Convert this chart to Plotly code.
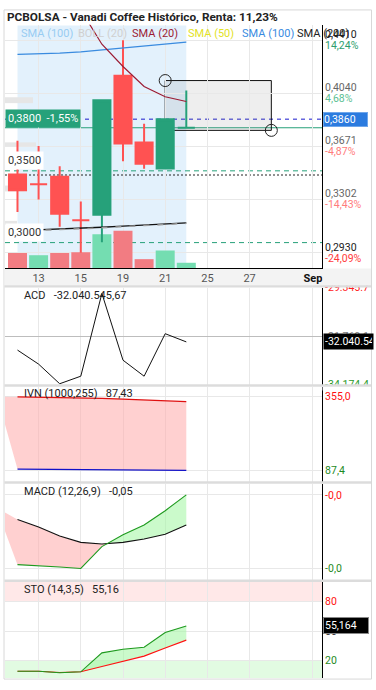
import plotly.graph_objects as go

W, H = 376, 690
FONT = "Roboto"

# ---------------- data ----------------
sessions = [0, 1, 2, 3, 4, 5, 6, 7, 8]              # trading sessions (12 Aug .. 22 Aug)
sessions_ext = [-1, 0, 1, 2, 3, 4, 5, 6, 7, 8]      # incl. previous session (indicator fills)
tick_pos = [1, 3, 5, 7, 9, 11, 14]
tick_txt = ["13", "15", "19", "21", "25", "27", '<span style="color:#111"><b>Sep</b></span>']

open_p  = [0.3475, 0.3407, 0.3459, 0.3156, 0.3194, 0.4163, 0.3698, 0.3516, 0.3800]
high_p  = [0.3710, 0.3673, 0.3532, 0.3286, 0.3992, 0.4410, 0.3828, 0.3860, 0.4060]
low_p   = [0.3213, 0.3300, 0.3110, 0.2930, 0.3003, 0.3566, 0.3514, 0.3510, 0.3800]
close_p = [0.3365, 0.3407, 0.3201, 0.3156, 0.3992, 0.3691, 0.3550, 0.3860, 0.3800]
candle_up = [0, 0, 0, 0, 1, 0, 0, 1, 1]
volume    = [153000, 130000, 153000, 160000, 343000, 380000, 90000, 177000, 53000]
volume_up = [0, 1, 0, 0, 1, 0, 0, 1, 1]

sma20  = [0.5300, 0.5080, 0.4860, 0.4621, 0.4382, 0.4227, 0.4088, 0.4016, 0.3983]
sma100 = [0.4311, 0.4315, 0.4320, 0.4329, 0.4343, 0.4356, 0.4368, 0.4382, 0.4397]
sma200 = [0.3083, 0.3088, 0.3094, 0.3100, 0.3107, 0.3115, 0.3122, 0.3130, 0.3138]
boll_lower = [0.3079, 0.3084, 0.3090, 0.3096, 0.3103, 0.3111, 0.3118, 0.3126, 0.3134]

price_levels = [0.4410, 0.4040, 0.3671, 0.3302, 0.2930]
price_level_txt = ["0,4410", "0,4040", "0,3671", "0,3302", "0,2930"]
price_level_pct = ["14,24%", "4,68%", "-4,87%", "-14,43%", "-24,09%"]
last_price, last_price_txt = 0.3860, "0,3860"
last_close, last_close_txt = 0.3800, "0,3800\u00a0\u00a0-1,55%"
support_levels = [0.3500, 0.3000]
support_txt = ["0,3500", "0,3000"]
dotted_level = 0.3471
draw_rect = [7, 0.4129, 12.03, 0.3782]   # drawing tool box: x0, y0, x1, y1

acd = [-32454178, -33163129, -34154669, -33772926, -29593600,
       -32964821, -33772926, -31626242, -32040545.67]
acd_ticks = [-29300000, -31760100, -34200000]
acd_tick_txt = ["-29.345.7", "-31.760.1", "-34.174.4"]

ivn_upper = [355.3, 355.0, 354.3, 353.2, 351.8, 349.6, 346.8, 343.9, 340.7, 337.2]
ivn_lower = [366.0, 92.0, 91.7, 91.3, 91.0, 90.6, 89.9, 89.2, 88.1, 87.43]

macd_line   = [-0.0575, -0.0898, -0.0903, -0.0911, -0.0920, -0.0795, -0.0728, -0.0672, -0.0590, -0.0500]
macd_signal = [-0.0574, -0.0640, -0.0683, -0.0734, -0.0771, -0.0780, -0.0771, -0.0752, -0.0724, -0.0672]

sto_k = [9.0, 9.0, 7.4, 8.4, 27.7, 31.4, 33.4, 48.4, 55.16]
sto_d = [9.0, 9.0, 7.7, 8.4, 13.8, 19.4, 24.4, 32.7, 40.7]

# ---------------- styling ----------------
GREEN = "#26A17A"
RED = "#FF5252"
VOL_UP = "#74DDB1"
VOL_DN = "#F27C82"
GRID = "#E8E8E8"


def pxx(p):
    return p / W


def pxy(p):
    return 1 - p / H


XDOM = [pxx(5), pxx(322)]
XRANGE = [-0.592, 14.431]

fig = go.Figure()

# volume (under the candles)
fig.add_trace(go.Bar(x=sessions, y=volume, width=0.9,
                     marker=dict(color=[VOL_UP if u else VOL_DN for u in volume_up], line=dict(width=0)),
                     xaxis="x", yaxis="y", hoverinfo="skip"))

# candles
for flag, col in ((0, RED), (1, GREEN)):
    idx = [i for i in range(len(sessions)) if candle_up[i] == flag]
    style = dict(line=dict(color=col, width=2), fillcolor=col)
    fig.add_trace(go.Candlestick(
        x=[sessions[i] for i in idx], open=[open_p[i] for i in idx], high=[high_p[i] for i in idx],
        low=[low_p[i] for i in idx], close=[close_p[i] for i in idx],
        increasing=style, decreasing=style, whiskerwidth=0,
        xaxis="x", yaxis="y2", hoverinfo="skip"))

# moving averages
fig.add_trace(go.Scatter(x=sessions, y=sma200, mode="lines", line=dict(color="#111", width=1.3), xaxis="x", yaxis="y2"))
fig.add_trace(go.Scatter(x=sessions, y=boll_lower, mode="lines", line=dict(color="#9A9A9A", width=1.5, dash="6px,8px"), xaxis="x", yaxis="y2"))
fig.add_trace(go.Scatter(x=sessions, y=sma100, mode="lines", line=dict(color="#3A8BDF", width=1.2), xaxis="x", yaxis="y2"))
fig.add_trace(go.Scatter(x=sessions, y=sma20, mode="lines", line=dict(color="#9C1C34", width=1.2), xaxis="x", yaxis="y2"))

# ACD
fig.add_trace(go.Scatter(x=sessions, y=acd, mode="lines", line=dict(color="#111", width=1), xaxis="x2", yaxis="y3"))

# IVN
fig.add_trace(go.Scatter(x=sessions_ext, y=ivn_lower, mode="lines", line=dict(width=0), xaxis="x3", yaxis="y4"))
fig.add_trace(go.Scatter(x=sessions_ext, y=ivn_upper, mode="lines", line=dict(width=0), fill="tonexty",
                         fillcolor="rgba(255,170,170,0.55)", xaxis="x3", yaxis="y4"))
fig.add_trace(go.Scatter(x=sessions, y=ivn_upper[1:], mode="lines", line=dict(color="#E01010", width=1.2), xaxis="x3", yaxis="y4"))
fig.add_trace(go.Scatter(x=sessions, y=ivn_lower[1:], mode="lines", line=dict(color="#1010C8", width=1.2), xaxis="x3", yaxis="y4"))


def band_fill(xs, a, b, col_pos, col_neg, xa, ya):
    segs = []
    cx, ca, cb = [xs[0]], [a[0]], [b[0]]
    sign = a[0] >= b[0]
    for i in range(1, len(xs)):
        s = a[i] >= b[i]
        if s != sign:
            d0 = a[i - 1] - b[i - 1]
            d1 = a[i] - b[i]
            t = d0 / (d0 - d1)
            xc = xs[i - 1] + t * (xs[i] - xs[i - 1])
            yc = a[i - 1] + t * (a[i] - a[i - 1])
            cx.append(xc); ca.append(yc); cb.append(yc)
            segs.append((cx, ca, cb, sign))
            cx, ca, cb = [xc], [yc], [yc]
            sign = s
        cx.append(xs[i]); ca.append(a[i]); cb.append(b[i])
    segs.append((cx, ca, cb, sign))
    for sx, sa, sb, sg in segs:
        fig.add_trace(go.Scatter(x=sx + sx[::-1], y=sa + sb[::-1], mode="lines", line=dict(width=0),
                                 fill="toself", fillcolor=col_pos if sg else col_neg,
                                 xaxis=xa, yaxis=ya, hoverinfo="skip"))


# MACD
band_fill(sessions_ext, macd_line, macd_signal, "rgba(160,245,160,0.55)", "rgba(255,170,170,0.55)", "x4", "y5")
fig.add_trace(go.Scatter(x=sessions, y=macd_signal[1:], mode="lines", line=dict(color="#111", width=1.1), xaxis="x4", yaxis="y5"))
fig.add_trace(go.Scatter(x=sessions, y=macd_line[1:], mode="lines", line=dict(color="#1E9A1E", width=1.1), xaxis="x4", yaxis="y5"))

# STO
band_fill(sessions, sto_k, sto_d, "rgba(160,245,160,0.55)", "rgba(255,170,170,0.55)", "x5", "y6")
fig.add_trace(go.Scatter(x=sessions, y=sto_d, mode="lines", line=dict(color="#FF1010", width=1.1), xaxis="x5", yaxis="y6"))
fig.add_trace(go.Scatter(x=sessions, y=sto_k, mode="lines", line=dict(color="#1E9A1E", width=1.1), xaxis="x5", yaxis="y6"))

# ---------------- axes ----------------
xcommon = dict(range=XRANGE, domain=XDOM, tickmode="array", tickvals=tick_pos, showgrid=True,
               gridcolor=GRID, zeroline=False, fixedrange=True)
ycommon = dict(side="right", showline=True, linecolor="#000", linewidth=1, zeroline=False,
               gridcolor=GRID, tickmode="array", ticks="", tickfont=dict(family=FONT, size=10.5, color="#666"))


def span(t, c):
    return '<span style="color:%s">%s</span>' % (c, t)


layout = dict(
    width=W, height=H, margin=dict(l=0, r=0, t=0, b=0),
    paper_bgcolor="white", plot_bgcolor="rgba(0,0,0,0)", showlegend=False,
    font=dict(family=FONT),
    boxgap=0.19, boxgroupgap=0,
    xaxis=dict(**xcommon, anchor="y", ticktext=tick_txt, showline=True, linecolor="#000",
               ticks="", tickfont=dict(family=FONT, size=11, color="#555"), rangeslider=dict(visible=False)),
    yaxis=dict(domain=[pxy(267), pxy(19)], range=[0, 2480000], visible=False, fixedrange=True),
    yaxis2=dict(**ycommon, overlaying="y", anchor="x", range=[0.28233, 0.45185],
                tickvals=price_levels, showticklabels=False),
    xaxis2=dict(**xcommon, anchor="y3", matches="x", showticklabels=False),
    yaxis3=dict(**{k: v for k, v in ycommon.items() if k != "gridcolor"}, gridcolor="#BDBDBD", anchor="x2",
                domain=[pxy(386), pxy(287)], range=[-34204241, -29296143], tickvals=acd_ticks,
                ticktext=[span(acd_tick_txt[0], "#FF2020"), span(acd_tick_txt[1], "#777"), span(acd_tick_txt[2], "#2A9A2A")]),
    xaxis3=dict(**xcommon, anchor="y4", matches="x", showticklabels=False),
    yaxis4=dict(**ycommon, anchor="x3", domain=[pxy(485), pxy(388)], range=[45.66, 391.75],
                tickvals=[355.0, 87.4], ticktext=[span("355,0", "#FF1010"), span("87,4", "#1E8A1E")]),
    xaxis4=dict(**xcommon, anchor="y5", matches="x", showticklabels=False),
    yaxis5=dict(**ycommon, anchor="x4", domain=[pxy(585), pxy(487)], range=[-0.09855, -0.04367],
                tickvals=[-0.0500, -0.0920], ticktext=[span("-0,0", "#FF1010"), span("-0,0", "#1E8A1E")]),
    xaxis5=dict(**xcommon, anchor="y6", matches="x", showticklabels=False),
    yaxis6=dict(**ycommon, anchor="x5", domain=[pxy(685), pxy(587)], range=[2, 100],
                tickvals=[80, 50, 20], ticktext=[span("80", "#FF1010"), span("50", "#333"), span("20", "#1E8A1E")]),
)
fig.update_layout(**layout)

# ---------------- shapes ----------------
shapes = []
# outer frame & date strip
shapes.append(dict(type="rect", xref="paper", yref="paper", x0=pxx(4), x1=pxx(371.5), y0=pxy(686), y1=pxy(4),
                   line=dict(color="#D8D8D8", width=1), fillcolor="rgba(0,0,0,0)", layer="below"))
shapes.append(dict(type="rect", xref="paper", yref="paper", x0=pxx(4.5), x1=pxx(371), y0=pxy(285), y1=pxy(267.5),
                   line=dict(width=0), fillcolor="#F3F3F3", layer="below"))
# highlighted period
shapes.append(dict(type="rect", xref="x", yref="y domain", x0=sessions[0], x1=sessions[-1], y0=0, y1=0.996,
                   line=dict(width=0), fillcolor="#E3F1FC", layer="below"))
# faint label stubs at the left edge
for y0, y1, x1 in ((93, 99, 33), (139, 143.5, 36), (183, 189, 24), (219, 223, 17)):
    shapes.append(dict(type="rect", xref="paper", yref="paper", x0=pxx(5), x1=pxx(x1), y0=pxy(y1), y1=pxy(y0),
                       line=dict(width=0), fillcolor="#E6E6E6", layer="below"))
# drawing tool rectangle
shapes.append(dict(type="rect", xref="x", yref="y2", x0=draw_rect[0], x1=draw_rect[2], y0=draw_rect[3], y1=draw_rect[1],
                   line=dict(color="#111", width=1), fillcolor="rgba(120,120,120,0.13)", layer="below"))
for cx, cy in ((draw_rect[0], draw_rect[1]), (draw_rect[2], draw_rect[3])):
    shapes.append(dict(type="circle", xref="x", yref="y2", xsizemode="pixel", ysizemode="pixel",
                       xanchor=cx, yanchor=cy, x0=-6, x1=6, y0=-6, y1=6,
                       line=dict(color="#222", width=1), fillcolor="rgba(0,0,0,0)", layer="above"))
# level lines
shapes.append(dict(type="line", xref="x domain", yref="y2", x0=0, x1=1, y0=last_price, y1=last_price,
                   line=dict(color="#1A1ACC", width=1, dash="4px,4px"), layer="below"))
shapes.append(dict(type="line", xref="x domain", yref="y2", x0=0, x1=1, y0=last_close, y1=last_close,
                   line=dict(color=GREEN, width=1.2), layer="below"))
for lv in support_levels:
    shapes.append(dict(type="line", xref="x domain", yref="y2", x0=0, x1=1, y0=lv, y1=lv,
                       line=dict(color=GREEN, width=1, dash="5px,4px"), layer="below"))
shapes.append(dict(type="line", xref="x domain", yref="y2", x0=0, x1=1, y0=dotted_level, y1=dotted_level,
                   line=dict(color="#222", width=1, dash="2px,2px"), layer="below"))
# STO zones
shapes.append(dict(type="rect", xref="x5 domain", yref="y6", x0=0, x1=1, y0=80, y1=100,
                   line=dict(width=0), fillcolor="#FFE8E8", layer="below"))
shapes.append(dict(type="rect", xref="x5 domain", yref="y6", x0=0, x1=1, y0=2, y1=20,
                   line=dict(width=0), fillcolor="#E2FBE2", layer="below"))
# clip covers for the ACD scale labels (they are clipped by the panel in the original)
shapes.append(dict(type="rect", xref="paper", yref="paper", x0=pxx(322.6), x1=pxx(371), y0=pxy(285), y1=pxy(276),
                   line=dict(width=0), fillcolor="#F3F3F3", layer="above"))
shapes.append(dict(type="rect", xref="paper", yref="paper", x0=pxx(322.6), x1=pxx(371), y0=pxy(392), y1=pxy(387),
                   line=dict(width=0), fillcolor="white", layer="above"))
# panel separators
for top in (284.5, 385.5, 484.5, 584.5):
    shapes.append(dict(type="rect", xref="paper", yref="paper", x0=pxx(4.5), x1=pxx(371), y0=pxy(top + 2.5), y1=pxy(top),
                       line=dict(width=0), fillcolor="#DCDCDC", layer="above"))
fig.update_layout(shapes=shapes)

# ---------------- annotations ----------------
ann = []


def A(text, x, y, xref="paper", yref="paper", size=11, color="#222", xanchor="left", yanchor="middle", **kw):
    ann.append(dict(text=text, x=x, y=y, xref=xref, yref=yref, showarrow=False, xanchor=xanchor, yanchor=yanchor,
                    font=dict(family=FONT, size=size, color=color), **kw))


A("<b>PCBOLSA - Vanadi Coffee Histórico, Renta: 11,23%</b>", pxx(5), pxy(11), size=11.8, color="#222")
legend_items = [("SMA (100)", "#98CCF2", 19), ("BOLL (20)", "#D0D0D0", 76), ("SMA (20)", "#9C1C34", 130),
                ("SMA (50)", "#E2E226", 186), ("SMA (100)", "#3A8BDF", 240), ("SMA (200)", "#222", 295)]
for t, c, xp in legend_items:
    A(t, pxx(xp), pxy(28), size=11, color=c)

pct_cols = ["#2E9E6E", "#5CBF94", "#FF7C7C", "#FF7C7C", "#FF3B3B"]
price_cols = ["#222", "#666", "#666", "#666", "#222"]
for lv, t, p, pc, cc in zip(price_levels, price_level_txt, price_level_pct, price_cols, pct_cols):
    A(t, pxx(323), lv, yref="y2", size=10.5, color=pc, yshift=5.5)
    A(p, pxx(323), lv, yref="y2", size=10.5, color=cc, yshift=-5.5)

A(last_price_txt, pxx(322.5), last_price, yref="y2", size=10.5, color="white", bgcolor="#2B7BDF",
  bordercolor="#6FA6EA", borderwidth=1, borderpad=0, width=43, align="left")
A(last_close_txt, pxx(5), last_close, yref="y2", size=11, color="white", yanchor="bottom", bgcolor=GREEN, borderpad=2)
for lv, t in zip(support_levels, support_txt):
    A(t, pxx(5), lv, yref="y2", size=11, color="#333", yanchor="bottom", bgcolor="white", borderpad=2, yshift=1)

A("ACD\u00a0\u00a0\u00a0-32.040.545,67", pxx(22), pxy(295), size=11, color="#222")
A("IVN (1000,255)\u00a0\u00a0\u00a087,43", pxx(22), pxy(395), size=11, color="#222")
A("MACD (12,26,9)\u00a0\u00a0\u00a0-0,05", pxx(22), pxy(495), size=11, color="#222")
A("STO (14,3,5)\u00a0\u00a0\u00a055,16", pxx(22), pxy(595), size=11, color="#222")

A("-32.040.54", pxx(322.5), acd[-1], yref="y3", size=10.5, color="white", bgcolor="#000", borderpad=1,
  width=47, align="left")
A("55,164", pxx(322.5), sto_k[-1], yref="y6", size=10.5, color="white", bgcolor="#000", bordercolor="#888",
  borderwidth=1, borderpad=1, width=42, align="left")

fig.update_layout(annotations=ann)
fig.write_html("out.html")
